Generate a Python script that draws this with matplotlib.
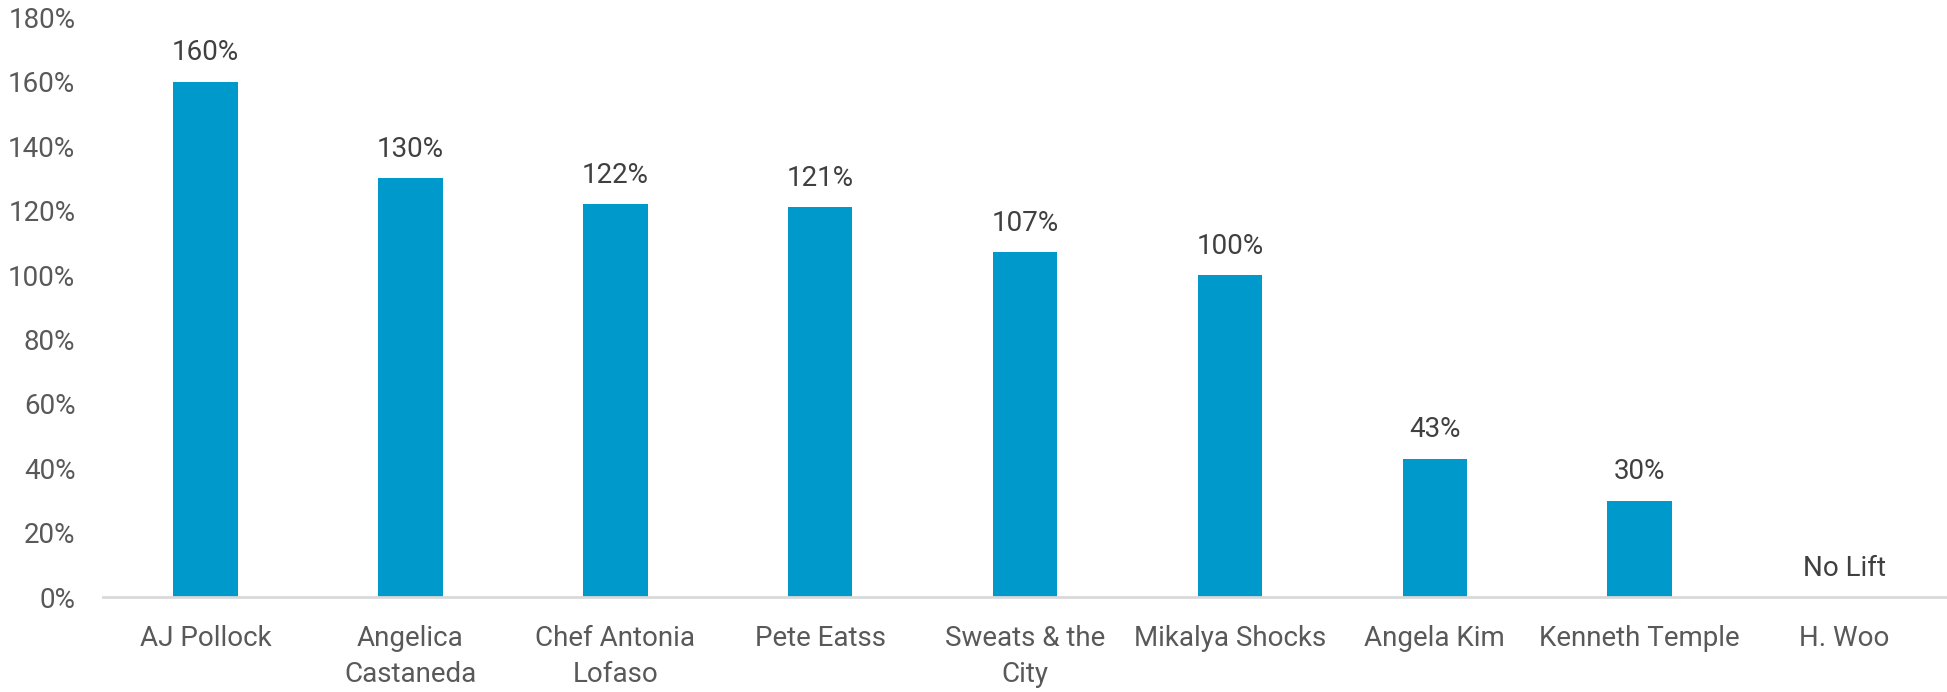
import matplotlib
matplotlib.use("Agg")
import matplotlib.pyplot as plt
from matplotlib.ticker import FuncFormatter

names = ["AJ Pollock", "Angelica\nCastaneda", "Chef Antonia\nLofaso", "Pete Eatss",
         "Sweats & the\nCity", "Mikalya Shocks", "Angela Kim", "Kenneth Temple", "H. Woo"]
lift = [160, 130, 122, 121, 107, 100, 43, 30, 0]
lift_labels = ["160%", "130%", "122%", "121%", "107%", "100%", "43%", "30%", "No Lift"]
y_ticks = [0, 20, 40, 60, 80, 100, 120, 140, 160, 180]

BAR = "#0099cc"
TICK_GREY = "#595959"
LABEL_GREY = "#404040"

plt.rcParams["font.family"] = ["Roboto", "DejaVu Sans"]

fig = plt.figure(figsize=(19.47, 6.92), dpi=100)
ax = fig.add_axes([0.053, 0.137, 0.947, 0.838])

x = range(len(names))
bars = ax.bar(x, lift, width=0.315, color=BAR, zorder=2)

for rect, txt in zip(bars, lift_labels):
    ax.annotate(txt, (rect.get_x() + rect.get_width() / 2, rect.get_height()),
                xytext=(0, 11), textcoords="offset points",
                ha="center", va="bottom", fontsize=20, color=LABEL_GREY)

ax.set_xlim(-0.5, len(names) - 0.5)
ax.set_ylim(0, 180)
ax.set_yticks(y_ticks)
ax.yaxis.set_major_formatter(FuncFormatter(lambda v, _: f"{v:.0f}%"))
ax.set_xticks(list(x))
ax.set_xticklabels(names, linespacing=1.45)

ax.tick_params(axis="both", length=0, labelsize=20, labelcolor=TICK_GREY)
ax.tick_params(axis="x", pad=20)
ax.tick_params(axis="y", pad=20)

for side in ("top", "right", "left"):
    ax.spines[side].set_visible(False)
ax.spines["bottom"].set_color("#d9d9d9")
ax.spines["bottom"].set_linewidth(2)

fig.savefig("out.png", dpi=100)
